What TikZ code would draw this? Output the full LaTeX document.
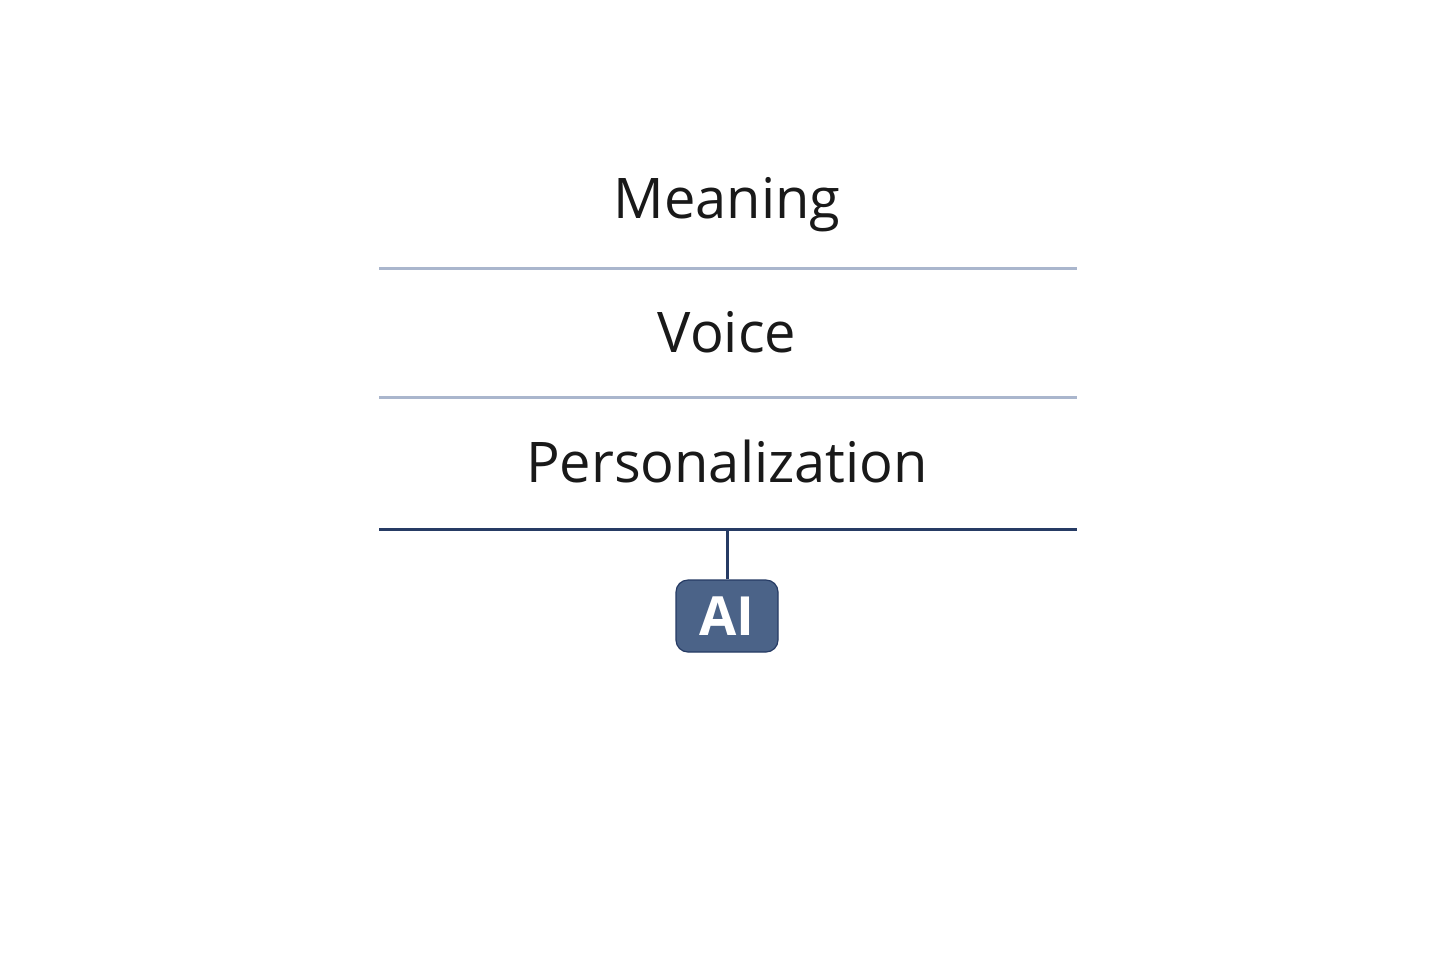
\documentclass[tikz,border=0pt]{standalone}
\usepackage{fontspec}
\setmainfont{Open Sans}
\usepackage{tikz}
\usetikzlibrary{positioning,calc,backgrounds}
\definecolor{ruleLight}{HTML}{AAB6CD}
\definecolor{ruleDark}{HTML}{263B64}
\definecolor{aiFill}{HTML}{4B6388}

\begin{document}
\begin{tikzpicture}[x=0.5pt,y=-0.5pt]

    \tikzstyle{layer}=[font=\fontsize{28}{34}\selectfont, text=black!90, anchor=base, inner sep=0pt]
    \tikzstyle{lightRule}=[draw=ruleLight, line width=1.5pt]
    \tikzstyle{darkRule}=[draw=ruleDark, line width=1.5pt]
    \tikzstyle{aiBox}=[rectangle, rounded corners=6pt, fill=aiFill, draw=ruleDark, line width=0.6pt, minimum width=51pt, minimum height=36pt, font=\fontsize{27}{30}\selectfont\bfseries, text=white, inner sep=0pt]

    % Background
    \fill[white] (0,0) rectangle (1456,971);
    \useasboundingbox (0,0) rectangle (1456,971);

    \begin{scope}
        % Spacing
        \def \left {379}
        \def \right {1077}
        \def \mid {727}

        % Rule ends
        \coordinate (R1w) at (\left, 268);
        \coordinate (R1e) at (\right, 268);
        \coordinate (R2w) at (\left, 397);
        \coordinate (R2e) at (\right, 397);
        \coordinate (R3w) at (\left, 529);
        \coordinate (R3e) at (\right, 529);
        \coordinate (R3m) at (\mid, 529);

        % Layers
        \node at (\mid, 218) [layer] (M) {Meaning};
        \node at (\mid, 352) [layer] (V) {Voice};
        \node at (\mid, 482) [layer] (P) {Personalization};

        % Rules
        \draw [lightRule] (R1w) -- (R1e);
        \draw [lightRule] (R2w) -- (R2e);
        \draw [darkRule] (R3w) -- (R3e);

        % AI
        \node at (\mid, 616) [aiBox] (AI) {AI};
        \draw [darkRule] (R3m) -- (AI.north);
    \end{scope}

\end{tikzpicture}
\end{document}
